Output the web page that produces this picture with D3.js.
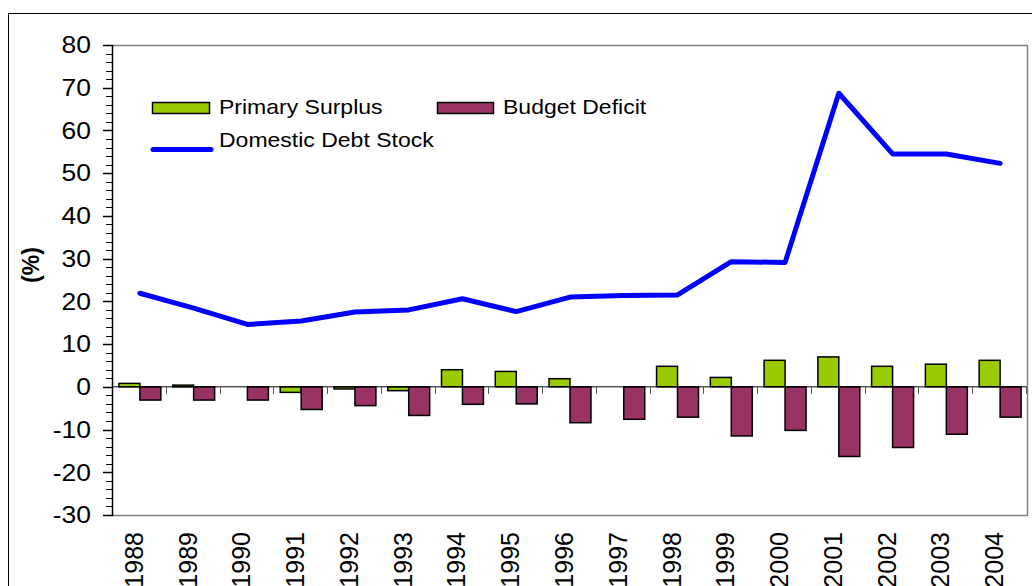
<!DOCTYPE html>
<html>
<head>
<meta charset="utf-8">
<script src="https://cdn.jsdelivr.net/npm/d3@7"></script>
<style>
  body { margin: 0; background: #fff; }
  text { font-family: "Liberation Sans", Arial, sans-serif; fill: #000; }
</style>
</head>
<body>
<div id="chart"></div>
<script>
var years = ["1988", "1989", "1990", "1991", "1992", "1993", "1994", "1995", "1996",
             "1997", "1998", "1999", "2000", "2001", "2002", "2003", "2004"];
var primarySurplus = [0.8, 0.4, 0, -1.3, -0.5, -0.9, 4.0, 3.6, 1.9, 0, 4.8, 2.2, 6.2, 7.0, 4.8, 5.3, 6.2];
var budgetDeficit = [-3.1, -3.1, -3.1, -5.3, -4.4, -6.7, -4.1, -4.0, -8.4, -7.6, -7.1, -11.5, -10.2, -16.3, -14.2, -11.1, -7.1];
var debtStock = [21.9, 18.4, 14.6, 15.4, 17.5, 18.0, 20.6, 17.6, 21.0, 21.4, 21.5, 29.3, 29.1, 68.7, 54.5, 54.5, 52.3];
var seriesNames = ["Primary Surplus", "Budget Deficit", "Domestic Debt Stock"];
var yTicks = [-30, -20, -10, 0, 10, 20, 30, 40, 50, 60, 70, 80];

var width = 1032, height = 586;
var plotL = 113, plotR = 1027, plotT = 45, plotB = 515;
var stretch = 1.15;

var svg = d3.select("#chart")
    .append("svg")
    .attr("width", width)
    .attr("height", height);

// chart frame (right and bottom edges fall outside the picture)
svg.append("rect")
    .attr("x", 8.5).attr("y", 13.5)
    .attr("width", 1040).attr("height", 600)
    .attr("fill", "none")
    .attr("stroke", "#000")
    .attr("stroke-width", 1);

var x0 = d3.scaleBand()
    .domain(years)
    .range([plotL, plotR])
    .paddingInner(0.22)
    .paddingOuter(0.11);

var x1 = d3.scaleBand()
    .domain(["ps", "bd"])
    .range([0, x0.bandwidth()]);

var y = d3.scaleLinear()
    .domain([-30, 80])
    .range([plotB, plotT]);

// plot area border (grey)
svg.append("path")
    .attr("d", "M" + plotL + "," + (plotT + 0.5) + "H" + (plotR + 0.5) + "V" + (plotB + 0.5) + "H" + plotL)
    .attr("fill", "none")
    .attr("stroke", "#808080")
    .attr("stroke-width", 1.5);

// y axis: minor ticks every 2, major every 10
var minor = d3.range(-30, 81, 2);
svg.selectAll(".minor")
    .data(minor)
    .enter()
    .append("line")
    .attr("x1", function (d) { return d % 10 === 0 ? plotL - 10 : plotL - 7; })
    .attr("x2", plotL)
    .attr("y1", function (d) { return Math.round(y(d)) + 0.5; })
    .attr("y2", function (d) { return Math.round(y(d)) + 0.5; })
    .attr("stroke", "#000")
    .attr("stroke-width", function (d) { return d % 10 === 0 ? 1.5 : 1; });

svg.append("line")
    .attr("x1", plotL - 0.5).attr("x2", plotL - 0.5)
    .attr("y1", plotT).attr("y2", plotB + 1)
    .attr("stroke", "#000")
    .attr("stroke-width", 1.5);

svg.selectAll(".ylab")
    .data(yTicks)
    .enter()
    .append("text")
    .attr("transform", function (d) {
        return "translate(91," + y(d) + ") scale(" + stretch + ",1)";
    })
    .attr("dy", "0.36em")
    .attr("text-anchor", "end")
    .attr("font-size", 23)
    .text(function (d) { return d; });

svg.append("text")
    .attr("transform", "translate(39,265) rotate(-90)")
    .attr("text-anchor", "middle")
    .attr("font-size", 23)
    .attr("font-weight", "bold")
    .text("(%)");

// bars
var bars = [];
years.forEach(function (yr, i) {
    if (primarySurplus[i] !== 0) bars.push({ year: yr, key: "ps", v: primarySurplus[i] });
    if (budgetDeficit[i] !== 0) bars.push({ year: yr, key: "bd", v: budgetDeficit[i] });
});
var color = { ps: "#99CC00", bd: "#993366" };

svg.selectAll(".bar")
    .data(bars)
    .enter()
    .append("rect")
    .attr("x", function (d) { return x0(d.year) + x1(d.key); })
    .attr("width", x1.bandwidth())
    .attr("y", function (d) { return y(Math.max(0, d.v)); })
    .attr("height", function (d) { return Math.abs(y(d.v) - y(0)); })
    .attr("fill", function (d) { return color[d.key]; })
    .attr("stroke", "#000")
    .attr("stroke-width", 1.5);

// zero line with category ticks
svg.append("line")
    .attr("x1", plotL).attr("x2", plotR)
    .attr("y1", y(0)).attr("y2", y(0))
    .attr("stroke", "#000")
    .attr("stroke-width", 1);

svg.selectAll(".ctick")
    .data(d3.range(1, years.length + 1))
    .enter()
    .append("line")
    .attr("x1", function (k) { return Math.round(plotL + k * x0.step()) - 0.5; })
    .attr("x2", function (k) { return Math.round(plotL + k * x0.step()) - 0.5; })
    .attr("y1", y(0))
    .attr("y2", y(0) + 7)
    .attr("stroke", "#555")
    .attr("stroke-width", 1);

// x labels
svg.selectAll(".xlab")
    .data(years)
    .enter()
    .append("text")
    .attr("transform", function (d) {
        return "translate(" + (x0(d) + x0.bandwidth() / 2 + 3) + ",532) rotate(-90)";
    })
    .attr("text-anchor", "end")
    .attr("font-size", 25)
    .text(function (d) { return d; });

// debt stock line
var line = d3.line()
    .x(function (d, i) { return x0(years[i]) + x0.bandwidth() / 2; })
    .y(function (d) { return y(d); });

svg.append("path")
    .datum(debtStock)
    .attr("d", line)
    .attr("fill", "none")
    .attr("stroke", "#0000FF")
    .attr("stroke-width", 5)
    .attr("stroke-linejoin", "round")
    .attr("stroke-linecap", "round");

// legend
var legend = svg.append("g");
legend.append("rect")
    .attr("x", 152.5).attr("y", 102.5)
    .attr("width", 57).attr("height", 11)
    .attr("fill", color.ps)
    .attr("stroke", "#000")
    .attr("stroke-width", 1.5);
legend.append("rect")
    .attr("x", 437.5).attr("y", 102.5)
    .attr("width", 56).attr("height", 11)
    .attr("fill", color.bd)
    .attr("stroke", "#000")
    .attr("stroke-width", 1.5);
legend.append("line")
    .attr("x1", 153).attr("x2", 211)
    .attr("y1", 149.5).attr("y2", 149.5)
    .attr("stroke", "#0000FF")
    .attr("stroke-width", 5)
    .attr("stroke-linecap", "round");

var legendText = [
    { name: seriesNames[0], x: 219, y: 113.5 },
    { name: seriesNames[1], x: 503, y: 113.5 },
    { name: seriesNames[2], x: 219, y: 147 }
];
legend.selectAll("text")
    .data(legendText)
    .enter()
    .append("text")
    .attr("transform", function (d) {
        return "translate(" + d.x + "," + d.y + ") scale(" + stretch + ",1)";
    })
    .attr("font-size", 20)
    .text(function (d) { return d.name; });
</script>
</body>
</html>
